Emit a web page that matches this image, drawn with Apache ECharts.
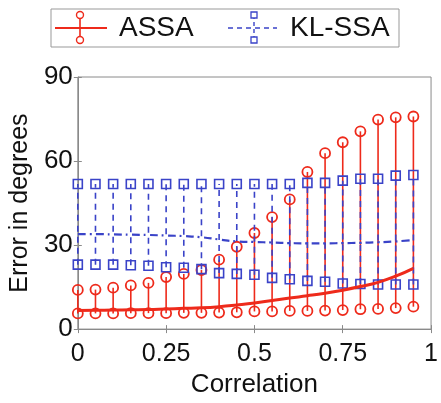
<!DOCTYPE html>
<html>
<head>
<meta charset="utf-8">
<script src="https://cdn.jsdelivr.net/npm/echarts@6/dist/echarts.min.js"></script>
<style>
html,body{margin:0;padding:0;background:#fff;}
#chart{width:441px;height:403px;}
</style>
</head>
<body>
<div id="chart"></div>
<script>
var correlation = [0,0.05,0.1,0.15,0.2,0.25,0.3,0.35,0.4,0.45,0.5,0.55,0.6,0.65,0.7,0.75,0.8,0.85,0.9,0.95];
var xTicks = [0,0.25,0.5,0.75,1];
var yTicks = [0,30,60,90];

var assaLow  = [5.6,5.6,5.6,5.7,5.7,5.7,5.8,5.8,5.9,6.0,6.3,6.3,6.5,6.5,6.6,6.8,7.1,7.2,7.5,8.0];
var assaHigh = [14.0,14.1,14.8,15.6,16.5,18.6,19.7,21.1,24.8,29.4,34.3,40.0,46.3,56.1,62.8,66.7,70.6,74.8,75.6,75.9];
var assaMean = [6.6,6.7,6.8,6.9,7.0,7.2,7.4,7.6,8.0,8.6,9.3,10.2,11.1,11.9,12.8,13.9,15.2,16.7,18.9,21.7];

var klLow  = [23.0,23.0,23.0,22.8,22.6,22.1,21.9,21.4,20.0,19.7,19.4,18.3,17.8,17.2,16.9,16.3,16.1,15.9,15.9,15.9];
var klHigh = [51.8,51.8,51.8,51.8,51.8,51.8,51.8,51.8,51.8,51.8,51.8,51.8,51.8,52.2,52.2,53.0,53.7,53.7,54.8,55.0];
var klMean = [33.9,33.9,33.8,33.7,33.6,33.4,33.2,32.8,32.0,31.3,31.1,30.9,30.7,30.6,30.6,30.7,30.8,31.0,31.3,31.8];

var RED = '#ee2a1b';
var BLUE = '#3a43c8';
var FONT = 'Liberation Sans';

function barData(lo, hi){
	var out = [];
	for (var i = 0; i < correlation.length; i++) out.push([correlation[i], lo[i], hi[i]]);
	return out;
}
function lineData(v){
	var out = [];
	for (var i = 0; i < correlation.length; i++) out.push([correlation[i], v[i]]);
	return out;
}

// vertical error bar with end markers
function makeBars(color, dash, marker){
	return function(params, api){
		var a = api.coord([api.value(0), api.value(1)]);
		var b = api.coord([api.value(0), api.value(2)]);
		var kids = [{
			type: 'line',
			shape: {x1: a[0], y1: a[1], x2: b[0], y2: b[1]},
			style: {stroke: color, lineWidth: 1.6, lineDash: dash}
		}];
		[a, b].forEach(function(p){
			if (marker === 'circle') {
				kids.push({type: 'circle', shape: {cx: p[0], cy: p[1], r: 5},
					style: {fill: 'none', stroke: color, lineWidth: 1.8}});
			} else {
				kids.push({type: 'rect', shape: {x: p[0] - 4.5, y: p[1] - 4.5, width: 9, height: 9},
					style: {fill: 'none', stroke: color, lineWidth: 1.6}});
			}
		});
		return {type: 'group', children: kids};
	};
}

var myChart = echarts.init(document.getElementById('chart'));
var option = {
	animation: false,
	backgroundColor: '#fff',
	grid: {left: 74, right: 4, top: 77, bottom: 58, show: true, borderColor: '#8a8a8a', borderWidth: 1},
	xAxis: [{
		type: 'value', min: 0, max: 1, interval: 0.25,
		name: 'Correlation', nameLocation: 'middle', nameGap: 40,
		nameTextStyle: {fontFamily: FONT, fontSize: 26, color: '#111'},
		axisLine: {show: true, lineStyle: {color: '#8a8a8a'}},
		axisTick: {inside: true, length: 4, lineStyle: {color: '#8a8a8a'}},
		axisLabel: {fontFamily: FONT, fontSize: 25, color: '#111', margin: 13,
			formatter: function(v){ return xTicks.indexOf(v) >= 0 ? String(v) : ''; }},
		splitLine: {show: false}
	}, {
		type: 'value', position: 'top', min: 0, max: 1, interval: 0.25,
		axisLine: {show: false}, axisLabel: {show: false},
		axisTick: {inside: true, length: 4, lineStyle: {color: '#8a8a8a'}},
		splitLine: {show: false}
	}],
	yAxis: [{
		type: 'value', min: 0, max: 90, interval: 30,
		name: 'Error in degrees', nameLocation: 'middle', nameGap: 40,
		nameTextStyle: {fontFamily: FONT, fontSize: 25, color: '#111'},
		axisLine: {show: true, lineStyle: {color: '#8a8a8a'}},
		axisTick: {inside: true, length: 4, lineStyle: {color: '#8a8a8a'}},
		axisLabel: {fontFamily: FONT, fontSize: 26, color: '#111', margin: 5,
			formatter: function(v){ return yTicks.indexOf(v) >= 0 ? String(v) : ''; }},
		splitLine: {show: false}
	}, {
		type: 'value', position: 'right', min: 0, max: 90, interval: 30,
		axisLine: {show: false}, axisLabel: {show: false},
		axisTick: {inside: true, length: 4, lineStyle: {color: '#8a8a8a'}},
		splitLine: {show: false}
	}],
	graphic: [
		{type: 'rect', shape: {x: 51, y: 9, width: 348, height: 38}, style: {fill: '#fff', stroke: '#999', lineWidth: 1}, z: 10},
		{type: 'line', shape: {x1: 55, y1: 28, x2: 107, y2: 28}, style: {stroke: RED, lineWidth: 1.8}, z: 11},
		{type: 'line', shape: {x1: 80, y1: 15, x2: 80, y2: 39}, style: {stroke: RED, lineWidth: 1.6}, z: 11},
		{type: 'circle', shape: {cx: 80, cy: 15, r: 3.5}, style: {fill: '#fff', stroke: RED, lineWidth: 1.4}, z: 12},
		{type: 'circle', shape: {cx: 80, cy: 40, r: 3.5}, style: {fill: '#fff', stroke: RED, lineWidth: 1.4}, z: 12},
		{type: 'text', style: {x: 119, y: 28, text: 'ASSA', fontFamily: FONT, fontSize: 28, fill: '#111', verticalAlign: 'middle'}, z: 12},
		{type: 'line', shape: {x1: 228, y1: 28, x2: 277, y2: 28}, style: {stroke: BLUE, lineWidth: 1.6, lineDash: [5, 4]}, z: 11},
		{type: 'line', shape: {x1: 254, y1: 15, x2: 254, y2: 39}, style: {stroke: BLUE, lineWidth: 1.4, lineDash: [4, 3]}, z: 11},
		{type: 'rect', shape: {x: 251, y: 12, width: 6, height: 6}, style: {fill: '#fff', stroke: BLUE, lineWidth: 1.3}, z: 12},
		{type: 'rect', shape: {x: 251, y: 37, width: 6, height: 6}, style: {fill: '#fff', stroke: BLUE, lineWidth: 1.3}, z: 12},
		{type: 'text', style: {x: 290, y: 28, text: 'KL-SSA', fontFamily: FONT, fontSize: 28, fill: '#111', verticalAlign: 'middle'}, z: 12}
	],
	series: [{
		name: 'ASSA range', type: 'custom', z: 2,
		renderItem: makeBars(RED, null, 'circle'),
		encode: {x: 0, y: [1, 2]},
		data: barData(assaLow, assaHigh)
	}, {
		name: 'KL-SSA range', type: 'custom', z: 3,
		renderItem: makeBars(BLUE, [6, 5], 'square'),
		encode: {x: 0, y: [1, 2]},
		data: barData(klLow, klHigh)
	}, {
		name: 'KL-SSA', type: 'line', z: 4, showSymbol: false, smooth: true,
		lineStyle: {color: BLUE, width: 2.2, type: [8, 4, 2, 4]},
		data: lineData(klMean)
	}, {
		name: 'ASSA', type: 'line', z: 5, showSymbol: false, smooth: true,
		lineStyle: {color: RED, width: 3},
		data: lineData(assaMean)
	}]
};
myChart.setOption(option);
</script>
</body>
</html>
